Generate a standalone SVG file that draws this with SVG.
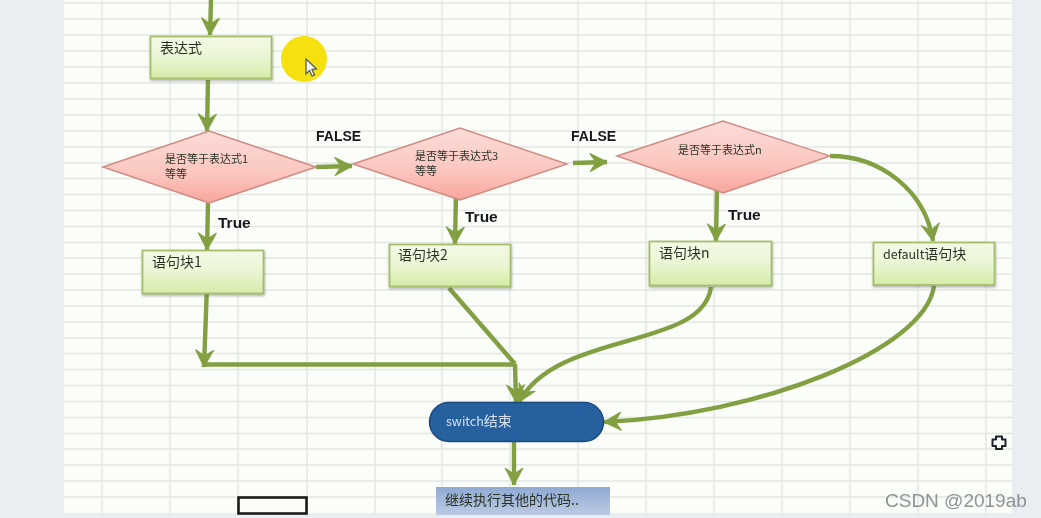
<svg xmlns="http://www.w3.org/2000/svg" width="1041" height="518" viewBox="0 0 1041 518">
<style>
.grid{stroke:#e3e6e3;stroke-width:1.5;fill:none}
.c{fill:none;stroke:#82a043;stroke-width:4.400}
.a{marker-end:url(#ah)}
.box{fill:url(#gg);stroke:#a3bf6c;stroke-width:1.800;filter:url(#sh)}
.dia{fill:url(#rg);stroke:#cf8a82;stroke-width:1.400}
text{font-family:"Noto Sans CJK SC","Liberation Sans",sans-serif;fill:#2c3328}
.t{font-size:14px}
.s{font-size:11px}
.b{font-family:"Liberation Sans",Arial,sans-serif;font-weight:700;font-size:14px;fill:#15181a}
.tr{font-size:15.500px}
</style>
<defs>
<linearGradient id="gg" x1="0" y1="0" x2="0" y2="1"><stop offset="0" stop-color="#f4f9e6"/><stop offset=".45" stop-color="#ecf6d6"/><stop offset="1" stop-color="#d6eca8"/></linearGradient>
<linearGradient id="rg" x1="0" y1="0" x2="0" y2="1"><stop offset="0" stop-color="#fcdcd8"/><stop offset=".6" stop-color="#fbc6bf"/><stop offset="1" stop-color="#f8a59c"/></linearGradient>
<linearGradient id="bg" x1="0" y1="0" x2="0" y2="1"><stop offset="0" stop-color="#8fa9d2"/><stop offset="1" stop-color="#bccbe4"/></linearGradient>
<filter id="sh" x="-5%" y="-10%" width="110%" height="125%"><feDropShadow dx="0.500" dy="1.500" stdDeviation="0.800" flood-color="#555" flood-opacity=".45"/></filter>
<filter id="soft" x="0" y="0" width="100%" height="100%"><feGaussianBlur stdDeviation="0.550"/></filter>
<marker id="ah" markerUnits="userSpaceOnUse" markerWidth="22" markerHeight="22" refX="18" refY="11" orient="auto"><path d="M1,2 L18,11 L1,20 L7,11 Z" fill="#82a043" stroke="#82a043" stroke-width="1" stroke-linejoin="round"/></marker>
</defs>
<rect width="1041" height="518" fill="#e8eef2"/>
<g filter="url(#soft)">
<rect x="64" y="0" width="948" height="513" fill="#fbfdf9"/>
<path class="grid" d="M102 0V513M170 0V513M238 0V513M307 0V513M375 0V513M442 0V513M510 0V513M578 0V513M646 0V513M714 0V513M782 0V513M850 0V513M918 0V513M986 0V513"/>
<path class="grid" d="M64 3H1012M64 19H1012M64 35H1012M64 51H1012M64 67H1012M64 83H1012M64 99H1012M64 115H1012M64 131H1012M64 147H1012M64 163H1012M64 178.500H1012M64 194.500H1012M64 210.500H1012M64 226.500H1012M64 242.500H1012M64 258H1012M64 274H1012M64 290H1012M64 306H1012M64 322H1012M64 338H1012M64 353.500H1012M64 369.500H1012M64 385.500H1012M64 401.500H1012M64 417.500H1012M64 433.500H1012M64 449H1012M64 465H1012M64 481H1012M64 497H1012"/>
<g id="connectors">
<path class="c a" d="M211 0L210 35"/>
<path class="c a" d="M208 80L207 131"/>
<path class="c a" d="M316 167L352 166"/>
<path class="c a" d="M573 163L607 162"/>
<path class="c a" d="M208 203L207 250"/>
<path class="c a" d="M456 192L455 244"/>
<path class="c a" d="M717 190L716 241"/>
<path class="c a" d="M830 156C880 156 925 190 933 241"/>
<path class="c a" d="M207 285L204 367"/>
<path class="c" d="M204 364.500H515"/>
<path class="c" d="M449 288L515 364"/>
<path class="c a" d="M515 364L516 402"/>
<path class="c a" d="M711 287C703 350 558 330 519 402"/>
<path class="c a" d="M934 286C925 350 760 415 604 422"/>
<path class="c a" d="M514 442V485"/>
</g>
<g id="n-expr"><rect class="box" x="150.500" y="36.500" width="121" height="42"/><text class="t" x="160" y="53">表达式</text></g>
<g id="n-cursor"><circle cx="304" cy="59" r="23" fill="#f5e10a"/><path d="M306 59L306 74L309.500 70.500L312 76L314.500 75L312 69.500L316.500 69Z" fill="#f4f4ef" stroke="#55605a" stroke-width="1.300"/></g>
<g id="n-d1"><polygon class="dia" points="103,167 209,131 316,167 209,203"/><text class="s" x="165" y="163">是否等于表达式1</text><text class="s" x="165" y="178">等等</text></g>
<g id="n-d2"><polygon class="dia" points="353,164 460,128 567,164 460,200"/><text class="s" x="415" y="160">是否等于表达式3</text><text class="s" x="415" y="175">等等</text></g>
<g id="n-d3"><polygon class="dia" points="617,156 723,121 830,156 723,193"/><text class="s" x="678" y="154">是否等于表达式n</text></g>
<g id="n-b1"><rect class="box" x="142.500" y="250.500" width="121" height="43"/><text class="t" x="152" y="267">语句块1</text></g>
<g id="n-b2"><rect class="box" x="389.500" y="244.500" width="121" height="42"/><text class="t" x="398" y="260">语句块2</text></g>
<g id="n-bn"><rect class="box" x="649.500" y="241.500" width="122" height="44"/><text class="t" x="659" y="258">语句块n</text></g>
<g id="n-def"><rect class="box" x="873.500" y="242.500" width="121" height="42.500"/><text class="t" x="883" y="259"><tspan font-size="12.500px">default</tspan>语句块</text></g>
<g id="n-end"><rect x="429.500" y="402.500" width="174" height="39" rx="19.500" fill="#27609f" stroke="#1c4a80" stroke-width="1.500"/><text class="t" x="446" y="426" style="fill:#d4e0ee"><tspan font-size="12.500px">switch</tspan>结束</text></g>
<g id="n-next"><rect x="436" y="487" width="174" height="28" fill="url(#bg)"/><text class="t" x="445" y="505">继续执行其他的代码..</text></g>
<g id="labels">
<text class="b" x="316" y="141">FALSE</text>
<text class="b" x="571" y="141">FALSE</text>
<text class="b tr" x="218" y="228">True</text>
<text class="b tr" x="465" y="222">True</text>
<text class="b tr" x="728" y="220">True</text>
</g>
<rect x="238.500" y="497.500" width="68" height="16" fill="none" stroke="#1a1a1a" stroke-width="2.600"/>
<path d="M996 436.500h6v3h3.500v6.500h-3.500v3h-6v-3h-3.500v-6.500h3.500z" fill="#fbfdf9" stroke="#1d2326" stroke-width="2" stroke-linejoin="round"/>
</g>
<text x="885" y="507" style="font-family:'Liberation Sans',sans-serif;font-size:19px;fill:#8e9396">CSDN @2019ab</text>
</svg>
